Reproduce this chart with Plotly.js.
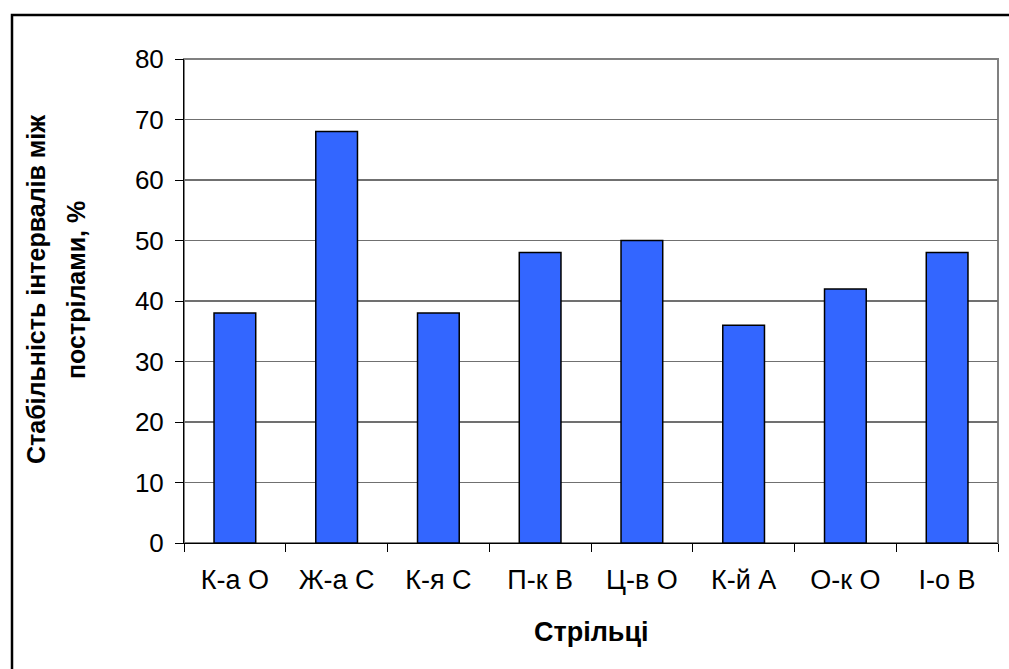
<!DOCTYPE html>
<html><head><meta charset="utf-8">
<script src="https://cdn.plot.ly/plotly-3.0.1.min.js"></script>
<style>body{margin:0;padding:0;background:#fff}#chart{width:1009px;height:669px}</style>
</head><body><div id="chart"></div>
<script>
const categories = ["К-а О", "Ж-а С", "К-я С", "П-к В", "Ц-в О", "К-й А", "О-к О", "І-о В"];
const values = [38, 68, 38, 48, 50, 36, 42, 48];
const yTitleLines = ["Стабільність інтервалів між", "пострілами, %"];
const xTitle = "Стрільці";

const trace = {
  type: 'bar', x: categories, y: values,
  marker: {color: '#3366FF', line: {color: '#000000', width: 1.5}},
  width: 0.41, hoverinfo: 'none'
};
const ff = 'Liberation Sans, Arial, sans-serif';
const layout = {
  width: 1009, height: 669,
  margin: {l: 184, r: 11, t: 59, b: 126},
  paper_bgcolor: '#fff', plot_bgcolor: '#fff',
  font: {family: ff, color: '#000', size: 26}, showlegend: false,
  xaxis: {
    type: 'category', showgrid: false, showline: true, linecolor: '#000', linewidth: 1,
    ticks: 'outside', tickson: 'boundaries', ticklen: 8, tickcolor: '#000',
    tickfont: {size: 27}, zeroline: false, ticklabelstandoff: 13
  },
  yaxis: {
    range: [0, 80], dtick: 10, showgrid: true, gridcolor: '#707070', gridwidth: 1.2,
    showline: true, linecolor: '#000', linewidth: 1, zeroline: false,
    ticks: 'outside', ticklen: 8, tickcolor: '#000', tickfont: {size: 26},
    ticklabelstandoff: 6
  },
  annotations: [
    {text: '<b>' + yTitleLines[0] + '</b>', xref: 'paper', yref: 'paper', x: -0.1818, y: 0.5227,
     textangle: -90, showarrow: false, xanchor: 'center', yanchor: 'middle', font: {size: 25}},
    {text: '<b>' + yTitleLines[1] + '</b>', xref: 'paper', yref: 'paper', x: -0.1327, y: 0.5227,
     textangle: -90, showarrow: false, xanchor: 'center', yanchor: 'middle', font: {size: 25}},
    {text: '<b>' + xTitle + '</b>', xref: 'paper', yref: 'paper', x: 0.5, y: -0.1839,
     showarrow: false, xanchor: 'center', yanchor: 'middle', font: {size: 27}}
  ],
  shapes: [
    {type: 'rect', xref: 'paper', yref: 'paper', x0: 0, x1: 1, y0: 0, y1: 1,
     line: {color: '#808080', width: 2}, layer: 'below'},
    {type: 'rect', xref: 'paper', yref: 'paper', x0: -0.2113, x1: 1.05, y0: -0.4, y1: 1.0909,
     line: {color: '#000', width: 2.5}}
  ]
};
Plotly.newPlot('chart', [trace], layout, {displayModeBar: false, staticPlot: true});
</script></body></html>
